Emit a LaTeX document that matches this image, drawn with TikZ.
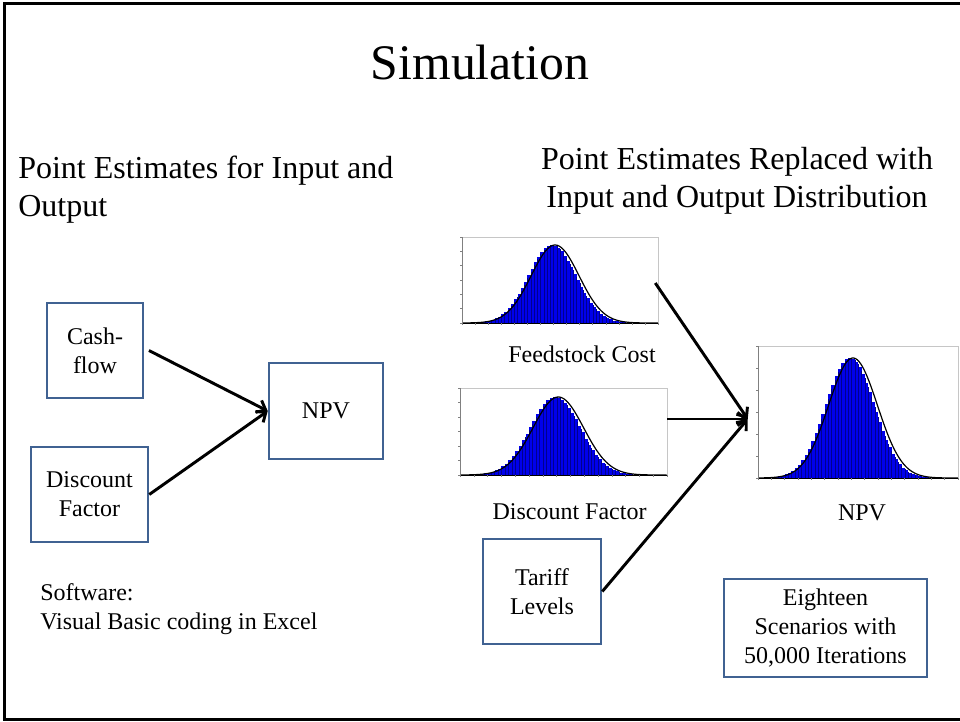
\documentclass[tikz,border=0pt]{standalone}
\usepackage{fontspec}
\setmainfont{Liberation Serif}
\usetikzlibrary{arrows.meta,fit}
\definecolor{boxblue}{RGB}{64,98,146}
\definecolor{histblue}{RGB}{0,0,235}
\newcommand{\drawhist}[5]{%
  \draw[gray!45, line width=0.4pt] (#1,#5) rectangle (#1+#3,#2);
  \foreach \i in {0,...,59}{%
    \pgfmathsetmacro{\xa}{#1+#3*\i/60}%
    \pgfmathsetmacro{\hh}{#4*exp(-0.5*(((\i+0.5)/60-0.46)/0.12)^2)}%
    \fill[histblue] (\xa,#2) rectangle ++(#3/60+0.3,-\hh);
  }
  \foreach \i in {1,...,59}{%
    \pgfmathsetmacro{\xa}{#1+#3*\i/60}%
    \draw[black!40!histblue, line width=0.1pt] (\xa,#2) -- ++(0,{-#4*exp(-0.5*(((\i)/60-0.46)/0.12)^2)});
  }
  \draw[line width=0.9pt] plot[domain=0:1, samples=120] ({#1+#3*\x},{#2-#4*exp(-0.5*((\x-0.475)/0.122)^2)});
  \draw[line width=0.6pt] (#1,#2) -- (#1+#3,#2);
  \draw[gray, line width=0.3pt] (#1,#2) -- (#1,#5);
  \foreach \k in {0,...,6}{\draw[gray, line width=0.3pt] (#1,{#2-(#2-#5)*\k/6}) -- ++(-2,0);}
  \foreach \k in {0,...,15}{\draw[gray, line width=0.3pt] ({#1+#3*\k/15},#2) -- ++(0,2);}
}
\begin{document}
\begin{tikzpicture}[x=0.75pt,y=-0.75pt,
  bx/.style={draw=boxblue, line width=1.9pt, align=center, inner sep=0pt,
    font=\fontsize{18}{21.75}\selectfont},
  arr/.style={line width=2.2pt, -{Straight Barb[length=6pt,width=10pt]}},
  txt/.style={font=\fontsize{18}{21.75}\selectfont, inner sep=0pt},
  head/.style={font=\fontsize{24}{28}\selectfont, inner sep=0pt}]
\useasboundingbox (0,0) rectangle (960,721);
\draw[line width=2pt] (961,3.5) -- (4.3,3.5) -- (4.3,719.3) -- (961,719.3);

\node[font=\fontsize{37.3}{44}\selectfont, inner sep=0pt, anchor=base] (title) at (480,79) {Simulation};

\node[head, anchor=base west, align=left] (lhead) at (18,216) {Point Estimates for Input and\\Output};
\node[head, anchor=base, align=center] (rhead) at (737,207) {Point Estimates Replaced with\\Input and Output Distribution};

% left diagram
\node[bx, minimum width=72pt, minimum height=71.25pt] (cash) at (95,350.5) {Cash-\\flow};
\node[bx, minimum width=85.5pt, minimum height=72pt] (npv) at (326,411) {NPV};
\node[bx, minimum width=87.75pt, minimum height=71.25pt] (dfl) at (89.5,494.5) {Discount\\Factor};
\coordinate (cs) at ([xshift=3.5pt]cash.east);
\draw[arr] (cs) -- (npv.west);
\draw[arr] (dfl.east) -- (npv.west);

\node[txt, anchor=base west, align=left] (soft) at (40,629) {Software:\\Visual Basic coding in Excel};

% right diagram
\drawhist{462}{323}{196}{78}{237}
\drawhist{460}{475}{207}{78}{388}
\drawhist{758}{478}{200}{120}{346}
\node[fit={(448,233) (655,333)}, inner sep=0pt] (feed) {};
\node[fit={(448,385) (667,485)}, inner sep=0pt] (disc) {};
\node[fit={(748,343) (960,495)}, inner sep=0pt] (npvh) {};

\node[txt, anchor=base] (lfeed) at (582,362) {Feedstock Cost};
\node[txt, anchor=base] (ldisc) at (569.5,519) {Discount Factor};
\node[txt, anchor=base] (lnpv) at (862,520) {NPV};

\node[bx, minimum width=88.5pt, minimum height=78.75pt] (tariff) at (542,591.5) {Tariff\\Levels};
\node[bx, minimum width=152.25pt, minimum height=73.5pt] (eighteen) at (825.5,628) {Eighteen\\Scenarios with\\50,000 Iterations};

\draw[arr] (feed.east) -- (npvh.west);
\draw[arr] (disc.east |- npvh.west) -- (npvh.west);
\draw[arr] (tariff.east) -- (npvh.west);
\end{tikzpicture}
\end{document}
